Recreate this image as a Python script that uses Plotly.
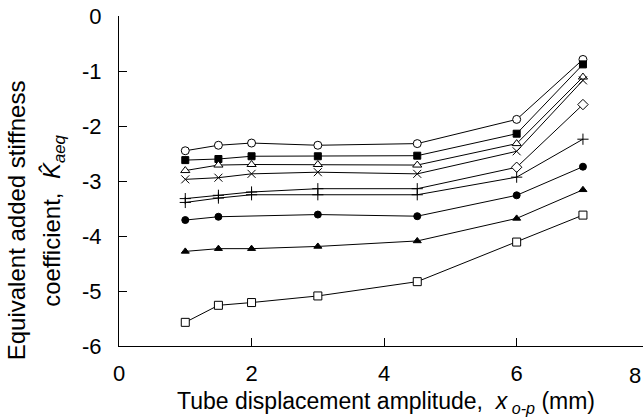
import plotly.graph_objects as go

# Data
x_amp = [1, 1.5, 2, 3, 4.5, 6, 7]
x_amp_no2 = [1, 1.5, 3, 4.5, 6, 7]

k_open_circle = [-2.45, -2.35, -2.31, -2.35, -2.32, -1.88, -0.79]
k_filled_square = [-2.62, -2.60, -2.55, -2.55, -2.54, -2.14, -0.88]
k_open_triangle = [-2.81, -2.71, -2.70, -2.70, -2.71, -2.32, -1.11]
k_cross = [-2.97, -2.94, -2.87, -2.84, -2.87, -2.46, -1.17]
k_open_diamond = [-3.32, -3.26, -3.20, -3.14, -3.14, -2.75, -1.61]
k_plus = [-3.39, -3.31, -3.25, -3.25, -3.25, -2.93, -2.24]
k_filled_circle = [-3.71, -3.65, -3.61, -3.64, -3.26, -2.74]
k_filled_triangle = [-4.28, -4.23, -4.23, -4.19, -4.09, -3.68, -3.16]
k_open_square = [-5.57, -5.26, -5.21, -5.09, -4.83, -4.11, -3.62]

x_tick_vals = [0, 2, 4, 6]
x_tick_text = ["0", "2", "4", "6"]
x_last_tick_text = "8"
y_tick_vals = [0, -1, -2, -3, -4, -5, -6]
y_tick_text = ["0", "-1", "-2", "-3", "-4", "-5", "-6"]

FONT = "Liberation Sans, Arial, sans-serif"
TICK_SIZE = 22
XTITLE_SIZE = 23
YTITLE_SIZE = 24

series = [
    (x_amp, k_open_circle, dict(symbol="circle", size=8, color="white", line=dict(color="black", width=1))),
    (x_amp, k_filled_square, dict(symbol="square", size=7, color="black", line=dict(color="black", width=1))),
    (x_amp, k_open_triangle, dict(symbol="triangle-up", size=8, color="white", line=dict(color="black", width=1))),
    (x_amp, k_cross, dict(symbol="x-thin", size=8, color="black", line=dict(color="black", width=1))),
    (x_amp, k_open_diamond, dict(symbol=["cross-thin"] * 5 + ["diamond", "diamond"], size=8,
                                 color="white", line=dict(color="black", width=1))),
    (x_amp, k_plus, dict(symbol="cross-thin", size=8, color="black", line=dict(color="black", width=1))),
    (x_amp_no2, k_filled_circle, dict(symbol="circle", size=7, color="black", line=dict(color="black", width=1))),
    (x_amp, k_filled_triangle, dict(symbol="triangle-up", size=7, color="black", line=dict(color="black", width=1))),
    (x_amp, k_open_square, dict(symbol="square", size=8, color="white", line=dict(color="black", width=1))),
]

fig = go.Figure()
for xs, ys, mk in series:
    fig.add_trace(go.Scatter(x=xs, y=ys, mode="lines+markers",
                             line=dict(color="black", width=1),
                             marker=mk, showlegend=False))

fig.update_layout(
    width=643, height=420,
    margin=dict(l=119, r=0, t=16, b=74, autoexpand=False),
    paper_bgcolor="white", plot_bgcolor="white",
    font=dict(family=FONT, size=TICK_SIZE, color="black"),
)
fig.update_xaxes(range=[0, 7.906], tickvals=x_tick_vals, ticktext=x_tick_text, ticks="inside", ticklen=8,
                 tickcolor="black", showline=True, linecolor="black", linewidth=1,
                 showgrid=False, zeroline=False, ticklabelstandoff=8, automargin=False)
fig.update_yaxes(range=[-6, 0], tickvals=y_tick_vals, ticktext=y_tick_text, ticks="inside", ticklen=8,
                 tickcolor="black", showline=True, linecolor="black", linewidth=1,
                 showgrid=False, zeroline=False, ticklabelstandoff=12, automargin=False)

# tick label "8" at the clipped right edge of the reference
fig.add_annotation(text=x_last_tick_text, xref="paper", yref="paper", x=1.0, y=-0.09, xanchor="right",
                   yanchor="middle", showarrow=False, font=dict(size=TICK_SIZE))
# x-axis title
fig.add_annotation(text="Tube displacement amplitude,  <i>x</i><sub><i> o-p</i></sub> (mm)",
                   xref="paper", yref="paper", x=0.51, y=-0.172, xanchor="center", yanchor="middle",
                   showarrow=False, font=dict(size=XTITLE_SIZE))
# y-axis title (two lines)
fig.add_annotation(text="Equivalent added stiffness", xref="paper", yref="paper",
                   x=-0.194, y=0.382, xanchor="center", yanchor="middle", textangle=-90,
                   showarrow=False, font=dict(size=YTITLE_SIZE))
fig.add_annotation(text="coefficient,  <i>K\u0302</i><sub><i>aeq</i></sub>", xref="paper", yref="paper",
                   x=-0.125, y=0.378, xanchor="center", yanchor="middle", textangle=-90,
                   showarrow=False, font=dict(size=YTITLE_SIZE))

fig.write_html(
    "out.html",
    config={"displayModeBar": False},
    post_script="document.body.style.margin='0px';document.documentElement.style.overflow='hidden';",
)
